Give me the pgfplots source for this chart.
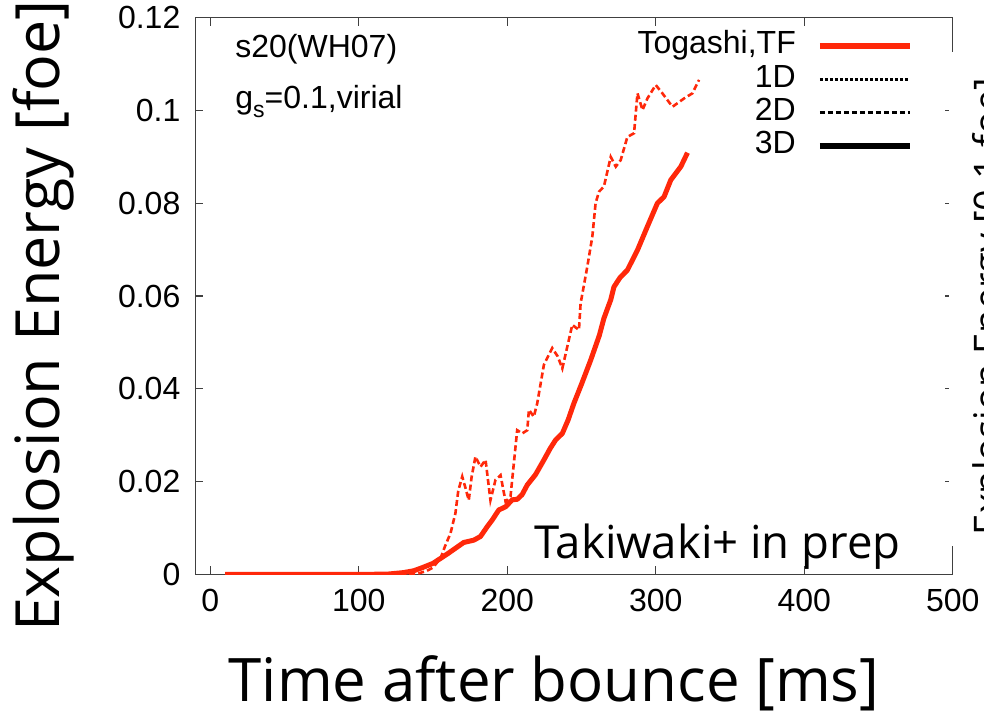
\documentclass[border=0pt]{standalone}
\usepackage{pgfplots}
\pgfplotsset{compat=1.18}
\usepackage{fontspec}
\setmainfont{Liberation Sans}
\newfontfamily\segoe{Open Sans}
\definecolor{tfred}{RGB}{255,40,10}

\pgfplotstableread{
x y
10 0
50 0
100 0
120 0.0001
130 0.0004
137 0.0008
143 0.0015
150 0.0024
160 0.0045
170.7 0.0069
177.5 0.0074
182 0.0082
186.5 0.0103
190 0.0118
194.3 0.0139
198.9 0.0146
203.4 0.0161
206.7 0.0162
210 0.0172
213.5 0.0193
219 0.0215
224.7 0.0247
229 0.0272
232.6 0.0290
237.1 0.0304
241 0.0333
244.9 0.0369
250 0.0410
256.2 0.0462
262 0.0515
265.1 0.0552
269.7 0.0592
271.9 0.0620
276 0.0640
280.9 0.0656
287.7 0.0699
294.4 0.0750
301.1 0.0800
305.6 0.0814
310.1 0.0850
316.9 0.0879
321.4 0.0909
}\threeD

\pgfplotstableread{
x y
10 0
100 0
130 0
140 0.0002
146 0.0008
150 0.0015
155.1 0.0035
158 0.0060
161.8 0.0089
165.1 0.0132
167 0.0180
169.7 0.0211
172 0.0185
174.1 0.0160
176 0.0210
178.6 0.0254
182 0.0232
185.4 0.0247
188.7 0.0160
192.1 0.0204
195.5 0.0214
198.9 0.0157
202.2 0.0168
206.7 0.0311
210.1 0.0304
213.5 0.0311
214.6 0.0355
217.9 0.0340
220.2 0.0369
224.7 0.0452
230.3 0.0488
234 0.0470
237.1 0.0444
243.8 0.0538
248.3 0.0527
249.4 0.0584
253.9 0.0663
257.3 0.0728
259.5 0.0800
261.8 0.0825
265.1 0.0836
269.7 0.0900
273.1 0.0879
276.4 0.0893
280.9 0.0943
285.4 0.0951
287.7 0.1037
291.1 0.1001
294.4 0.1026
300 0.1055
304.5 0.1037
311.3 0.1008
319.1 0.1026
324.7 0.1037
329.2 0.1066
}\twoD

\begin{document}
\begin{tikzpicture}
\path[use as bounding box] (-97.7pt,-70.25pt) rectangle (394.3pt,287.25pt);
\clip (-97.7pt,-70.25pt) rectangle (394.3pt,287.25pt);
\begin{axis}[
  at={(0pt,0pt)}, anchor=south west,
  scale only axis, width=378.65pt, height=278.4pt,
  xmin=-10, xmax=500, ymin=0, ymax=0.12,
  xtick={0,100,200,300,400,500},
  ytick={0,0.02,0.04,0.06,0.08,0.1,0.12},
  tick align=inside, major tick length=4pt,
  axis line style={black!75, line width=0.6pt},
  tick style={black!75, line width=0.6pt},
  ticklabel style={font=\fontsize{16}{18}\selectfont},
  /pgf/number format/assume math mode=true,
  yticklabel style={/pgf/number format/fixed, /pgf/number format/precision=2, xshift=-4pt},
  xticklabel style={yshift=-4pt},
  legend plot pos=right,
  legend cell align=right,
  legend image code/.code={\draw[#1] (0pt,0pt) -- (45pt,0pt);},
  legend style={at={(0.9476,0.977)}, anchor=north east, draw=none, fill=none,
    inner sep=0pt, font=\fontsize{16}{18}\selectfont,
    nodes={inner sep=0pt, text height=11.5pt, text depth=3.5pt},
    row sep=1.67pt, column sep=10.7pt},
]
\addplot[forget plot, tfred, line width=1.3pt, dash pattern=on 3pt off 1.6pt] table[x=x,y=y] {\twoD};
\addplot[forget plot, tfred, line width=2.5pt, line join=round] table[x=x,y=y] {\threeD};
\addlegendimage{tfred, line width=2.7pt}
\addlegendentry{Togashi,TF}
\addlegendimage{black, line width=1.5pt, dash pattern=on 1.5pt off 1pt}
\addlegendentry{1D}
\addlegendimage{black, line width=1.2pt, dash pattern=on 2.5pt off 1.5pt}
\addlegendentry{2D}
\addlegendimage{black, line width=2.7pt}
\addlegendentry{3D}
\end{axis}
% hide part of right frame (overlay in original)
\fill[white] (376.8pt,14.25pt) rectangle (400pt,261.25pt);
\node[anchor=north, rotate=90, inner sep=0pt, font=\segoe\fontsize{19}{22}\selectfont] at (388.3pt,134pt) {Explosion Energy [0.1 foe]};
% axis labels
\node[anchor=base, rotate=90, inner sep=0pt, font=\segoe\fontsize{30.5}{34}\selectfont] at (-67.7pt,129.25pt) {Explosion Energy [foe]};
\node[anchor=base, inner sep=0pt, font=\segoe\fontsize{30}{34}\selectfont] at (179.3pt,-63.6pt) {Time after bounce [ms]};
\node[anchor=base, inner sep=0pt, font=\segoe\fontsize{22.75}{26}\selectfont] at (261.05pt,8.1pt) {Takiwaki+ in prep};
\node[anchor=base west, inner sep=0pt, font=\fontsize{16}{18}\selectfont] at (19.8pt,258.25pt) {s20(WH07)};
\node[anchor=base west, inner sep=0pt, font=\fontsize{16}{18}\selectfont] at (19.8pt,233.1pt) {g\raisebox{-0.3em}{\fontsize{11.5}{12}\selectfont s}=0.1,virial};
\end{tikzpicture}
\end{document}
